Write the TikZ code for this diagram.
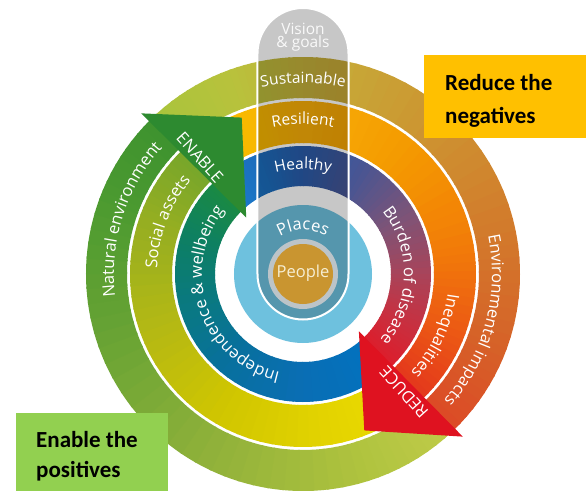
\documentclass[tikz,border=0pt]{standalone}
\usepackage{fontspec}
\setmainfont{Open Sans}
\newfontfamily\boxfont{Carlito}
\usetikzlibrary{decorations.text}

% ring colours, reduce side (top and right)
\definecolor{oL1}{HTML}{A8C43C}
\definecolor{oL2}{HTML}{B8C23C}
\definecolor{oT}{HTML}{C4B03A}
\definecolor{oR1}{HTML}{CC9832}
\definecolor{oR2}{HTML}{D27C2C}
\definecolor{oR3}{HTML}{D66228}
\definecolor{oR4}{HTML}{DC4A26}
\definecolor{mY1}{HTML}{F6C200}
\definecolor{mY2}{HTML}{F8B800}
\definecolor{mT}{HTML}{F8AE08}
\definecolor{mR1}{HTML}{F49A00}
\definecolor{mR2}{HTML}{F27C08}
\definecolor{mR3}{HTML}{EC5A14}
\definecolor{mR4}{HTML}{E4381C}
\definecolor{iB1}{HTML}{1A7CCC}
\definecolor{iB2}{HTML}{1C6CBC}
\definecolor{iT}{HTML}{2A5CAA}
\definecolor{iP1}{HTML}{4A5592}
\definecolor{iP2}{HTML}{7C5478}
\definecolor{iP3}{HTML}{A8445A}
\definecolor{iP4}{HTML}{C83040}
\definecolor{iP5}{HTML}{DC1E2C}
% ring colours, enable side (bottom and left)
\definecolor{oE1}{HTML}{C0CC48}
\definecolor{oE2}{HTML}{AEC23E}
\definecolor{oE3}{HTML}{92B23A}
\definecolor{oE4}{HTML}{6AA434}
\definecolor{oE5}{HTML}{4C9A30}
\definecolor{oE6}{HTML}{3E932F}
\definecolor{mE1}{HTML}{ECDC00}
\definecolor{mE2}{HTML}{E4D400}
\definecolor{mE3}{HTML}{D0C600}
\definecolor{mE4}{HTML}{B4B814}
\definecolor{mE5}{HTML}{94AE22}
\definecolor{mE6}{HTML}{78A62A}
\definecolor{iE1}{HTML}{0072C0}
\definecolor{iE2}{HTML}{0A6EB4}
\definecolor{iE3}{HTML}{08709E}
\definecolor{iE4}{HTML}{0A7A7C}
\definecolor{iE5}{HTML}{0E8060}
\definecolor{iE6}{HTML}{1A8A44}
% heads, centre and boxes
\definecolor{enablegreen}{HTML}{2D8A30}
\definecolor{reducered}{HTML}{DF1220}
\definecolor{placesblue}{HTML}{6EC1DE}
\definecolor{peoplegray}{HTML}{BCC4C8}
\definecolor{peoplegold}{HTML}{C99530}
\definecolor{peopletext}{HTML}{F6EED2}
\definecolor{boxorange}{HTML}{FFC000}
\definecolor{boxgreen}{HTML}{92D050}

\newcommand{\ringfont}{\fontsize{16.5}{16.5}\selectfont}
\newcommand{\topfont}{\fontsize{15.5}{15.5}\selectfont}
\newcommand{\boxtxt}{\boxfont\bfseries\fontsize{23}{23}\selectfont}

\begin{document}
\begin{tikzpicture}[x=1pt,y=1pt,
    ringlabel/.style={decorate,decoration={text along path,text color=white,text={|\ringfont|#1},text align=center}},
    toplabel/.style={decorate,decoration={text along path,text color=white,text={|\topfont|#1},text align=center}},
    boxlabel/.style={anchor=base west,inner sep=0pt,font=\boxtxt,text=black}]

  \useasboundingbox (-303,-217) rectangle (283,274);
  \fill[white] (-303,-217) rectangle (283,274);
  \coordinate (Centre) at (0,0);

  % the three rings, cut in small colour steps
  \foreach \rA/\rB/\angA/\angB/\colA/\colB in {
      176/217/135/110/oL1/oL2, 176/217/110/90/oL2/oT, 176/217/90/55/oT/oR1,
      176/217/55/15/oR1/oR2, 176/217/15/-20/oR2/oR3, 176/217/-20/-46/oR3/oR4,
      176/217/-46/-75/oE1/oE2, 176/217/-75/-115/oE2/oE3, 176/217/-115/-160/oE3/oE4,
      176/217/-160/-200/oE4/oE5, 176/217/-200/-225/oE5/oE6,
      131/173/135/110/mY1/mY2, 131/173/110/90/mY2/mT, 131/173/90/50/mT/mR1,
      131/173/50/10/mR1/mR2, 131/173/10/-20/mR2/mR3, 131/173/-20/-46/mR3/mR4,
      131/173/-46/-80/mE1/mE2, 131/173/-80/-120/mE2/mE3, 131/173/-120/-160/mE3/mE4,
      131/173/-160/-200/mE4/mE5, 131/173/-200/-225/mE5/mE6,
      88/128/135/110/iB1/iB2, 88/128/110/90/iB2/iT, 88/128/90/60/iT/iP1,
      88/128/60/30/iP1/iP2, 88/128/30/0/iP2/iP3, 88/128/0/-25/iP3/iP4,
      88/128/-25/-46/iP4/iP5,
      88/128/-46/-90/iE1/iE2, 88/128/-90/-130/iE2/iE3, 88/128/-130/-170/iE3/iE4,
      88/128/-170/-200/iE4/iE5, 88/128/-200/-225/iE5/iE6}
  {
    \foreach \k in {0,...,9}
    {
      \pgfmathsetmacro{\sa}{\angA+(\angB-\angA)*\k/10}
      \pgfmathsetmacro{\sb}{\angA+(\angB-\angA)*(\k+1)/10-0.6}
      \pgfmathtruncatemacro{\pc}{95-10*\k}
      \fill[\colA!\pc!\colB] (\sa:\rA) arc[start angle=\sa,end angle=\sb,radius=\rA]
        -- (\sb:\rB) arc[start angle=\sb,end angle=\sa,radius=\rB] -- cycle;
    }
  }

  % arrow heads
  \coordinate (gBarbOut) at (135.2:228);
  \coordinate (gTip)     at (111.4:168);
  \coordinate (gBarbIn)  at (135.2:80);
  \coordinate (rBarbOut) at (-45.5:228);
  \coordinate (rTip)     at (-68.6:168);
  \coordinate (rBarbIn)  at (-45.7:80);
  \fill[enablegreen] (gBarbOut) -- (gTip) -- (gBarbIn) -- cycle;
  \fill[reducered] (rBarbOut) -- (rTip) -- (rBarbIn) -- cycle;

  % places disk and the vision pillar over it
  \fill[placesblue] (Centre) circle (69);
  \fill[black,opacity=0.22] (-45.5,0) -- (-45.5,220.5) arc[start angle=180,end angle=0,radius=45.5]
    -- (45.5,0) arc[start angle=0,end angle=-180,radius=45.5] -- cycle;
  \draw[white,line width=2] (-45.5,0) -- (-45.5,220.5) arc[start angle=180,end angle=0,radius=45.5]
    -- (45.5,0) arc[start angle=0,end angle=-180,radius=45.5] -- cycle;
  \fill[peoplegray] (Centre) circle (35);
  \fill[peoplegold] (Centre) circle (30);

  % texts along the rings
  \path[ringlabel=Natural environment] (205:189) arc[start angle=205,end angle=120,radius=189];
  \path[ringlabel=Social assets] (200:146) arc[start angle=200,end angle=118,radius=146];
  \path[ringlabel={Independence {\&} wellbeing}] (290:101) arc[start angle=290,end angle=108,radius=101];
  \path[ringlabel=Environmental impacts] (35:189) arc[start angle=35,end angle=-65,radius=189];
  \path[ringlabel=Inequalities] (20:146) arc[start angle=20,end angle=-70,radius=146];
  \path[ringlabel=Burden of disease] (60:101) arc[start angle=60,end angle=-62,radius=101];
  \path[toplabel=Sustainable] (130:191) arc[start angle=130,end angle=50,radius=191];
  \path[toplabel=Resilient] (130:150) arc[start angle=130,end angle=50,radius=150];
  \path[toplabel=Healthy] (135:105) arc[start angle=135,end angle=45,radius=105];
  \path[ringlabel=Places] (150:44) arc[start angle=150,end angle=30,radius=44];

  \node[rotate=-48,font=\ringfont,text=white] (enable) at (-103,116.5) {ENABLE};
  \node[rotate=132,font=\ringfont,text=white] (reduce) at (101,-118) {REDUCE};
  \node[font=\topfont,text=white!95!gray,align=center] (vision) at (0,237) {Vision\\[-2pt]\& goals};
  \node[font=\ringfont,text=peopletext] (people) at (0,1) {People};

  % the two boxes
  \fill[boxorange] (121,219) rectangle (283,136);
  \node[boxlabel] (reduceA) at (142,184) {Reduce the};
  \node[boxlabel] (reduceB) at (142,151) {negatives};
  \fill[boxgreen] (-287,-139) rectangle (-135,-217);
  \node[boxlabel] (enableA) at (-267,-173.5) {Enable the};
  \node[boxlabel] (enableB) at (-267,-203) {positives};

\end{tikzpicture}
\end{document}
